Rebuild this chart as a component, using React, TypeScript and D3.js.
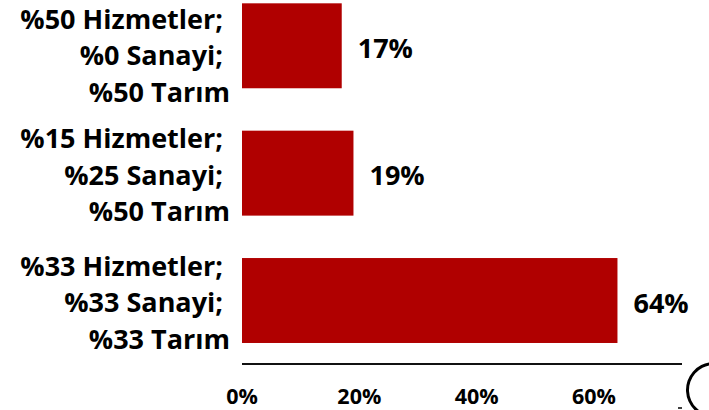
import React from "react";
import * as d3 from "d3";

const categories: string[][] = [
  ["%50 Hizmetler; ", "%0 Sanayi; ", "%50 Tarım"],
  ["%15 Hizmetler; ", "%25 Sanayi; ", "%50 Tarım"],
  ["%33 Hizmetler; ", "%33 Sanayi; ", "%33 Tarım"],
];
const values: number[] = [0.17, 0.19, 0.64];
const valueLabels: string[] = ["17%", "19%", "64%"];
const ticks: number[] = [0, 0.2, 0.4, 0.6];
const tickLabels: string[] = ["0%", "20%", "40%", "60%"];

const W = 709;
const H = 410;
const FONT = "'Open Sans', Lato, sans-serif";

export default function App() {
  const x = d3.scaleLinear().domain([0, 0.75]).range([242, 682]);
  const y = d3
    .scaleBand<number>()
    .domain(d3.range(values.length))
    .range([-17.7, 364])
    .paddingInner(0.333)
    .paddingOuter(0.165);
  const bh = y.bandwidth();
  const lineH = 36.5;

  return (
    <svg
      width={W}
      height={H}
      style={{ position: "absolute", left: 0, top: 0, background: "#fff" }}
      fontFamily={FONT}
      fontWeight="bold"
    >
      {values.map((v, i) => {
        const y0 = y(i)!;
        const cy = y0 + bh / 2;
        const first = Math.max(cy + 11.5 - lineH, 28.5);
        return (
          <g key={i}>
            <rect x={x(0)} y={y0} width={x(v) - x(0)} height={bh} fill="#B00000" />
            <text x={x(v) + 16} y={cy + 12} fontSize={27} fill="#000">
              {valueLabels[i]}
            </text>
            {categories[i].map((line, j) => (
              <text
                key={j}
                x={230}
                y={first + j * lineH}
                fontSize={27}
                textAnchor="end"
                fill="#000"
                style={{ whiteSpace: "pre" }}
              >
                {line}
              </text>
            ))}
          </g>
        );
      })}
      <line x1={x(0)} x2={x(0.75)} y1={364} y2={364} stroke="#111" strokeWidth={2} />
      {ticks.map((t, i) => (
        <text key={i} x={x(t)} y={403.5} fontSize={21.5} textAnchor="middle" fill="#000">
          {tickLabels[i]}
        </text>
      ))}
      <path
        d={d3.arc()({ innerRadius: 25, outerRadius: 28, startAngle: -Math.PI, endAngle: -Math.PI * 0.03 }) || ""}
        transform="translate(714,390)"
        fill="#000"
      />
      <line x1={678} x2={682} y1={408} y2={408} stroke="#000" strokeWidth={1.5} />
    </svg>
  );
}
